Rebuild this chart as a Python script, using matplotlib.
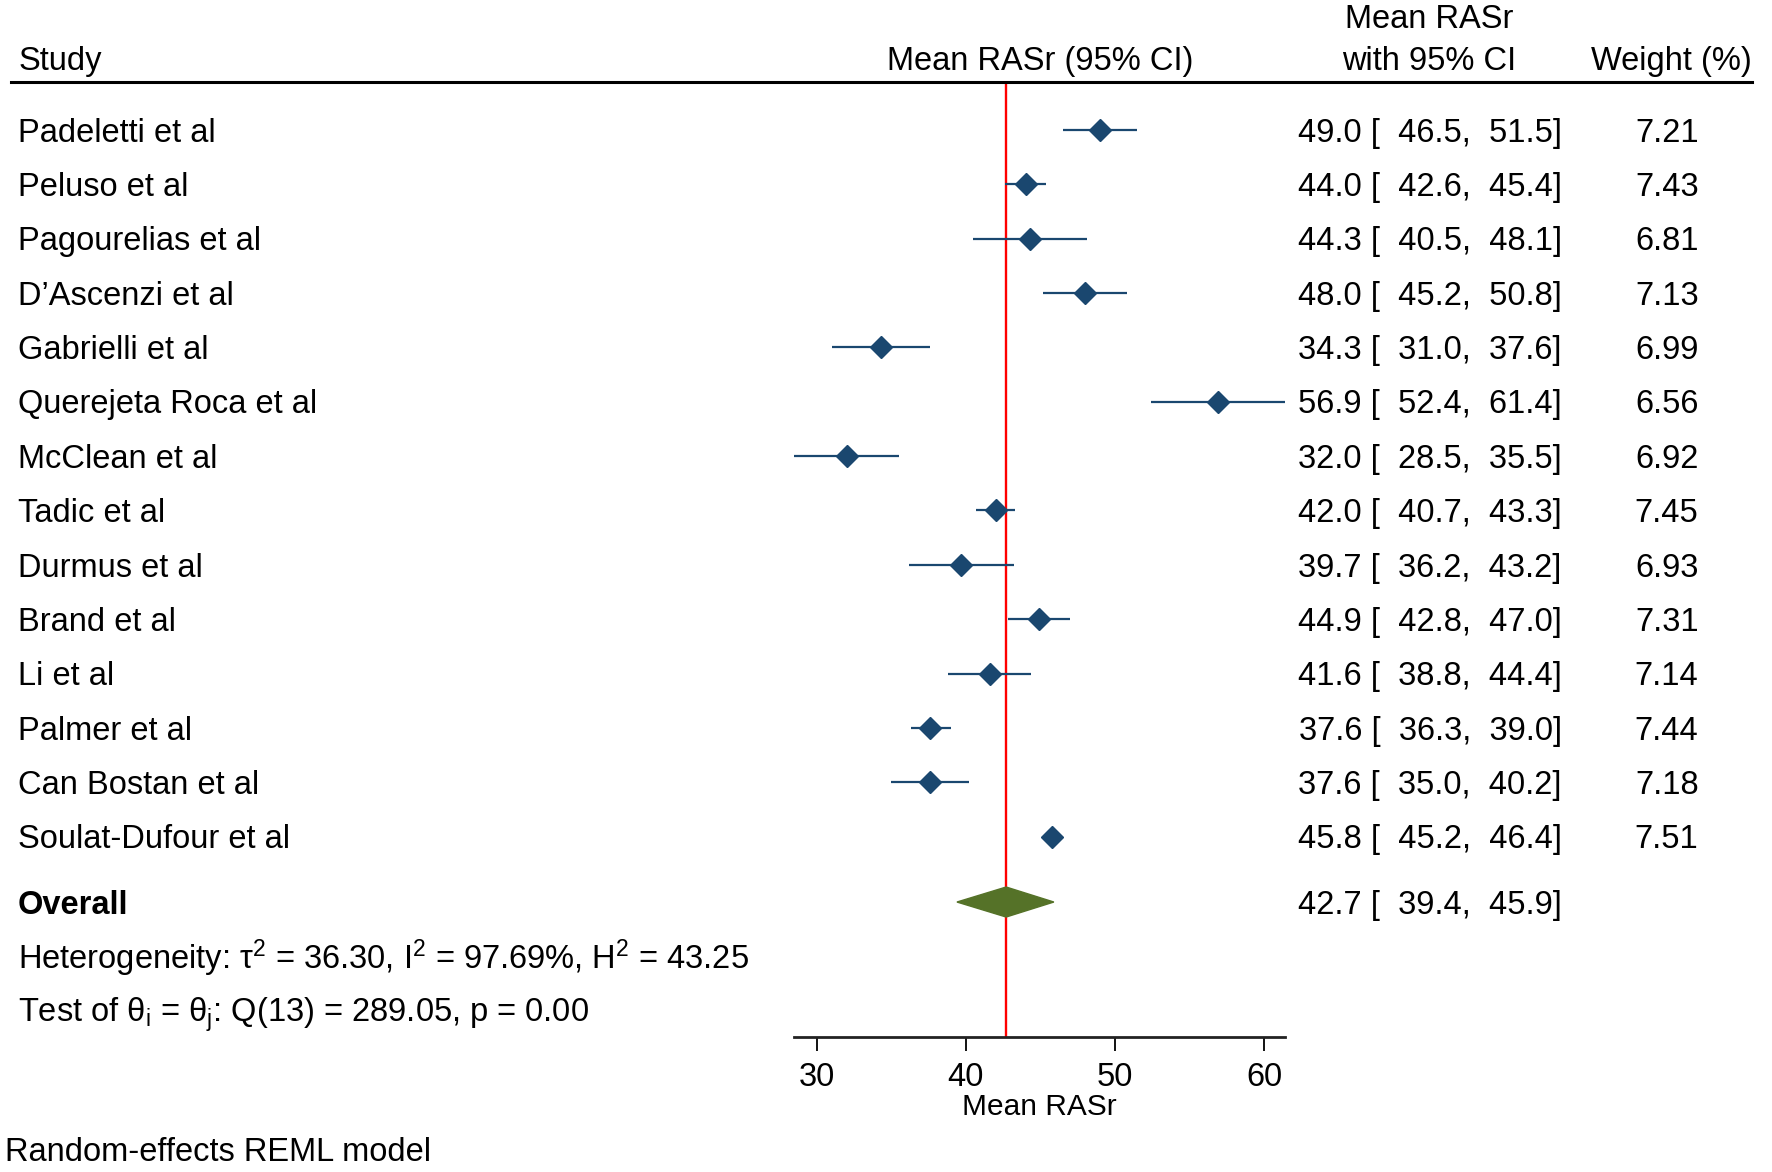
import matplotlib
matplotlib.use("Agg")
import matplotlib.pyplot as plt
from matplotlib.transforms import blended_transform_factory
from matplotlib.patches import Polygon
from matplotlib.lines import Line2D

plt.rcParams['font.family'] = ['Liberation Sans', 'DejaVu Sans']
plt.rcParams['mathtext.fontset'] = 'custom'
plt.rcParams['mathtext.rm'] = 'Liberation Sans'
plt.rcParams['mathtext.it'] = 'Liberation Sans:italic'

studies = ["Padeletti et al", "Peluso et al", "Pagourelias et al", "D\u2019Ascenzi et al",
           "Gabrielli et al", "Querejeta Roca et al", "McClean et al", "Tadic et al",
           "Durmus et al", "Brand et al", "Li et al", "Palmer et al", "Can Bostan et al",
           "Soulat-Dufour et al"]
means = [49.0, 44.0, 44.3, 48.0, 34.3, 56.9, 32.0, 42.0, 39.7, 44.9, 41.6, 37.6, 37.6, 45.8]
lo = [46.5, 42.6, 40.5, 45.2, 31.0, 52.4, 28.5, 40.7, 36.2, 42.8, 38.8, 36.3, 35.0, 45.2]
hi = [51.5, 45.4, 48.1, 50.8, 37.6, 61.4, 35.5, 43.3, 43.2, 47.0, 44.4, 39.0, 40.2, 46.4]
weights = [7.21, 7.43, 6.81, 7.13, 6.99, 6.56, 6.92, 7.45, 6.93, 7.31, 7.14, 7.44, 7.18, 7.51]
overall = 42.7
overall_lo = 39.4
overall_hi = 45.9
xticks = [30, 40, 50, 60]

W, H = 1772, 1172
s = W / 1568.0
fig = plt.figure(figsize=(W / 100, H / 100), dpi=100)

def fx(px):
    return px / 1568.0

def fy(py):
    return 1 - py / (H / s)

FS = 23.5
navy = '#1a476f'
CAP = 11.7 / s          # half cap height in reference-display px
ROWPX = 48.1            # display px per row
DY = CAP / ROWPX        # baseline offset in row units

ax = fig.add_axes([fx(703), fy(918), fx(1137) - fx(703), fy(73) - fy(918)])
ax.set_xlim(min(lo), max(hi))
row_y = list(range(len(studies)))
y_overall = 14.2
ax.set_ylim(16.69, -0.87)

for sp in ['top', 'left', 'right']:
    ax.spines[sp].set_visible(False)
ax.spines['bottom'].set_linewidth(2.0)
ax.spines['bottom'].set_color('#222222')
ax.set_yticks([])
ax.set_xticks(xticks)
ax.tick_params(axis='x', direction='out', length=10, width=1.3, pad=8,
               labelsize=FS, colors='black')
ax.set_xlabel("Mean RASr", fontsize=21.5, labelpad=0)

# reference line
ax.axvline(overall, color='#ff0000', lw=1.7, zorder=1)

# CIs and points
for y, m, l, h in zip(row_y, means, lo, hi):
    ax.plot([l, h], [y, y], color=navy, lw=1.6, solid_capstyle='butt', zorder=2)
ax.plot(means, row_y, ls='none', marker='D', ms=11, color=navy, mec=navy, zorder=3)

# overall diamond
hh = 0.276
ax.add_patch(Polygon([(overall_lo, y_overall), (overall, y_overall - hh),
                      (overall_hi, y_overall), (overall, y_overall + hh)],
                     closed=True, facecolor='#557228', edgecolor='#557228', zorder=3))

tr = blended_transform_factory(fig.transFigure, ax.transData)

for y, name, m, l, h, w in zip(row_y, studies, means, lo, hi, weights):
    yb = y + DY
    ax.text(fx(16), yb, name, transform=tr, fontsize=FS, va='baseline', ha='left', clip_on=False)
    ax.text(fx(1382), yb, f"{m:.1f} [ {l:5.1f}, {h:5.1f}]", transform=tr, fontsize=FS,
            va='baseline', ha='right', clip_on=False)
    ax.text(fx(1503), yb, f"{w:.2f}", transform=tr, fontsize=FS, va='baseline', ha='right',
            clip_on=False)

ax.text(fx(16), y_overall + DY, "Overall", transform=tr, fontsize=FS, fontweight='bold',
        va='baseline', ha='left', clip_on=False)
ax.text(fx(1382), y_overall + DY, f"{overall:.1f} [ {overall_lo:5.1f}, {overall_hi:5.1f}]",
        transform=tr, fontsize=FS, va='baseline', ha='right', clip_on=False)

def ftext(x, ycen, txt, **kw):
    fig.text(fx(x), fy(ycen + CAP), txt, fontsize=kw.pop('fontsize', FS), va='baseline', **kw)

ftext(16, 847, r"Heterogeneity: τ$^2$ = 36.30, I$^2$ = 97.69%, H$^2$ = 43.25", ha='left')
ftext(16, 894, r"Test of θ$_\mathrm{i}$ = θ$_\mathrm{j}$: Q(13) = 289.05, p = 0.00", ha='left')

# headers
ftext(16, 52, "Study", ha='left')
ftext(920, 52, "Mean RASr (95% CI)", ha='center')
ftext(1265, 14, "Mean RASr", ha='center')
ftext(1265, 52, "with 95% CI", ha='center')
ftext(1479, 52, "Weight (%)", ha='center')
fig.add_artist(Line2D([fx(10), fx(1550)], [fy(73), fy(73)], color='black', lw=2.2,
                      transform=fig.transFigure))

ftext(4, 1017, "Random-effects REML model", ha='left')

fig.savefig("out.png", dpi=100, facecolor='white')
